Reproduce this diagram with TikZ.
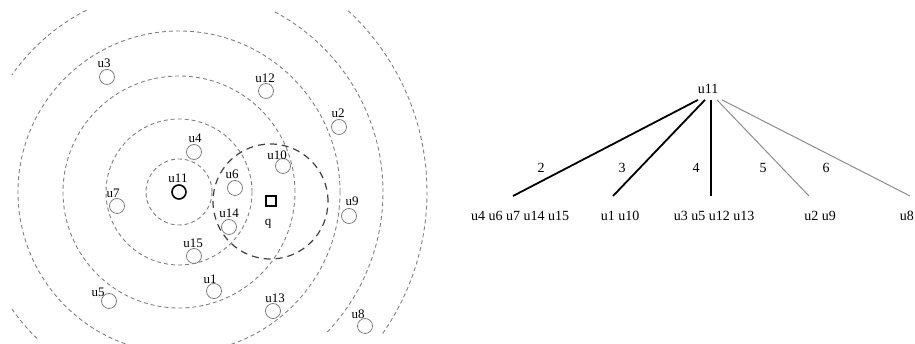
\documentclass[tikz,border=0pt]{standalone}
\usepackage{fontspec}
\setmainfont{Liberation Serif}
\begin{document}
\begin{tikzpicture}[x=1pt,y=1pt,
  ring/.style={draw=black!50, line width=0.9pt, dash pattern=on 4pt off 3pt},
  qring/.style={draw=black!75, line width=1.2pt, dash pattern=on 7pt off 5pt},
  pt/.style={circle, draw=black!50, line width=0.8pt, minimum size=15pt, inner sep=0pt},
  ptc/.style={circle, draw=black, line width=1.6pt, minimum size=14pt, inner sep=0pt},
  qbox/.style={rectangle, draw=black, line width=1.5pt, minimum size=10pt, inner sep=0pt},
  lab/.style={inner sep=0pt, font=\fontsize{13}{15}\selectfont},
  tlab/.style={inner sep=0pt, font=\fontsize{14}{16}\selectfont},
  strong/.style={draw=black, line width=1.8pt},
  weak/.style={draw=black!45, line width=1pt}]
\clip (0,0) rectangle (915,344);
\useasboundingbox (0,0) rectangle (915,344);
\coordinate (C) at (179,152);
\coordinate (Q) at (270.5,142.5);
% dashed rings
\draw[ring] (C) circle[radius=33pt];
\draw[ring] (C) circle[radius=73pt];
\draw[ring] (C) circle[radius=116pt];
\draw[ring] (C) circle[radius=161pt];
\draw[ring] ([shift={(117:204pt)}]C) arc[start angle=117, end angle=145, radius=204pt];
\draw[ring] ([shift={(215:204pt)}]C) arc[start angle=215, end angle=226, radius=204pt];
\draw[ring] ([shift={(62:204pt)}]C) arc[start angle=62, end angle=-44, radius=204pt];
\draw[ring] ([shift={(47:248pt)}]C) arc[start angle=47, end angle=-35.5, radius=248pt];
\draw[qring] (Q) circle[radius=57.5pt];
% points
\node[ptc] (u11) at (C) {};
\node[pt] (u3) at (107,267) {};
\node[pt] (u12) at (266,253) {};
\node[pt] (u2) at (339,217) {};
\node[pt] (u4) at (194,192) {};
\node[pt] (u10) at (283,178) {};
\node[pt] (u6) at (235,156) {};
\node[pt] (u7) at (117,138) {};
\node[pt] (u14) at (229,117) {};
\node[pt] (u9) at (349,128) {};
\node[pt] (u15) at (194,88) {};
\node[pt] (u1) at (214,53) {};
\node[pt] (u5) at (109,43) {};
\node[pt] (u13) at (273,33) {};
\node[pt] (u8) at (365,18) {};
\node[qbox] (q) at (271,143) {};
% point labels
\node[lab] (l3) at (104,281) {u3};
\node[lab] (l12) at (265,266) {u12};
\node[lab] (l2) at (338,231) {u2};
\node[lab] (l4) at (195,206) {u4};
\node[lab] (l10) at (277,189) {u10};
\node[lab] (l11) at (178,166) {u11};
\node[lab] (l6) at (232,170) {u6};
\node[lab] (l7) at (113,151) {u7};
\node[lab] (l14) at (229,131) {u14};
\node[lab] (l9) at (352,143) {u9};
\node[lab] (l15) at (193,101) {u15};
\node[lab] (l1) at (210,65) {u1};
\node[lab] (l5) at (98,52) {u5};
\node[lab] (l13) at (275,46) {u13};
\node[lab] (l8) at (358,30) {u8};
\node[lab] (lq) at (268,120) {q};
% tree
\node[tlab] (t11) at (708,255) {u11};
\coordinate (e2) at (513,148);
\coordinate (e3) at (613,148);
\coordinate (e4) at (711,148);
\coordinate (e5) at (809,148);
\coordinate (e6) at (910,148);
\draw[strong] ([shift={(-10pt,-6pt)}]t11.south) -- (e2);
\draw[strong] ([shift={(-3pt,-6pt)}]t11.south) -- (e3);
\draw[strong] ([shift={(3pt,-6pt)}]t11.south) -- (e4);
\draw[weak] ([shift={(9pt,-6pt)}]t11.south) -- (e5);
\draw[weak] ([shift={(14pt,-6pt)}]t11.south) -- (e6);
\node[tlab] (n2) at (541,176) {2};
\node[tlab] (n3) at (622,176) {3};
\node[tlab] (n4) at (696,176) {4};
\node[tlab] (n5) at (763,176) {5};
\node[tlab] (n6) at (826,176) {6};
\node[tlab] (g2) at (520,128) {u4 u6 u7 u14 u15};
\node[tlab] (g3) at (620,128) {u1 u10};
\node[tlab] (g4) at (714,128) {u3 u5 u12 u13};
\node[tlab] (g5) at (820,128) {u2 u9};
\node[tlab, anchor=east] (g6) at (914,128) {u8};
\end{tikzpicture}
\end{document}
